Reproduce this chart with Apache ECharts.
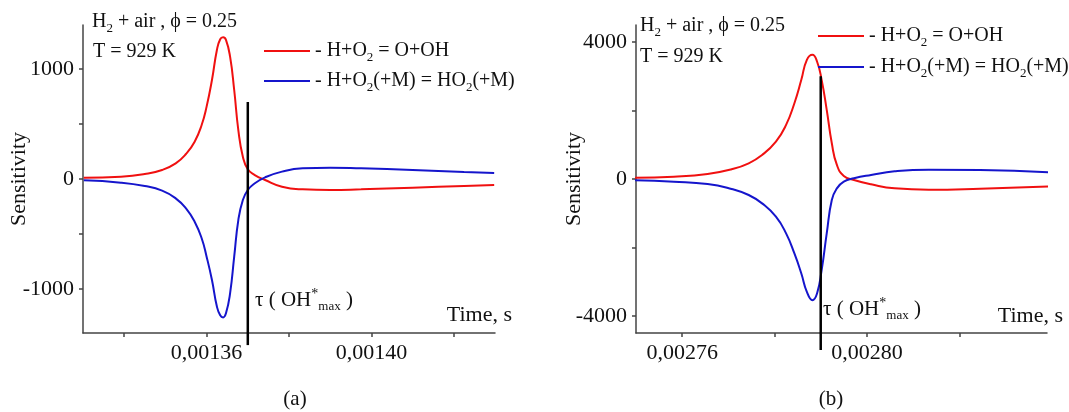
<!DOCTYPE html>
<html>
<head>
<meta charset="utf-8">
<script src="https://cdn.jsdelivr.net/npm/echarts@6/dist/echarts.min.js"></script>
<style>
  html, body { margin: 0; padding: 0; background: #fff; }
  #chart { width: 1069px; height: 412px; }
</style>
</head>
<body>
<div id="chart"></div>
<script>
// panel (a)
const timeA = [0.0013302, 0.0013392, 0.001345, 0.0013492, 0.0013525, 0.001355, 0.0013571, 0.0013588, 0.00136, 0.0013613,
  0.0013625, 0.0013633, 0.001364, 0.0013647, 0.0013657, 0.0013667, 0.0013677, 0.0013688, 0.00137, 0.0013717,
  0.0013742, 0.0013783, 0.0013833, 0.00139, 0.0013975, 0.00141, 0.0014225, 0.0014298];
const redA = [12, 21, 45, 82, 142, 227, 339, 491, 658, 900, 1173, 1270, 1288, 1264, 1112, 809, 445, 203, 88, 36,
  -9, -70, -94, -100, -94, -79, -64, -55];
const blueA = [-12, -33, -64, -106, -176, -267, -388, -539, -706, -918, -1160, -1239, -1258, -1221, -1039, -706, -373, -191, -100, -39,
  15, 67, 97, 103, 97, 82, 64, 55];
const tauA = 0.00137;
const tauSpanA = [700, -1510];
const xTicksA = [0.00134, 0.00136, 0.00138, 0.00140, 0.00142];
const xLabelsA = [0.00136, 0.00140];
const yTicksA = [-1000, -500, 0, 500, 1000];
const yLabelsA = [-1000, 0, 1000];

// panel (b)
const timeB = [0.0027498, 0.0027582, 0.0027655, 0.0027707, 0.0027744, 0.0027773, 0.0027803, 0.0027825, 0.0027843, 0.0027858,
  0.002787, 0.0027882, 0.0027892, 0.0027902, 0.0027913, 0.0027924, 0.0027935, 0.002795, 0.0027972, 0.0028009,
  0.002806, 0.0028134, 0.0028245, 0.0028394];
const redB = [39, 68, 146, 283, 459, 702, 1093, 1580, 2215, 2898, 3483, 3629, 3434, 2898, 2020, 1044, 410, 88, -29, -156,
  -273, -312, -283, -215];
const blueB = [-39, -78, -146, -293, -468, -712, -1102, -1590, -2176, -2761, -3298, -3541, -3346, -2663, -1590, -615, -273, -78, 20, 117,
  224, 273, 263, 195];
const tauB = 0.00279;
const tauSpanB = [3000, -5000];
const xTicksB = [0.00276, 0.00278, 0.00280, 0.00282];
const xLabelsB = [0.00276, 0.00280];
const yTicksB = [-4000, -2000, 0, 2000, 4000];
const yLabelsB = [-4000, 0, 4000];

const RED = '#f01010';
const BLUE = '#1515cc';
const FONT = '"Liberation Serif", "Times New Roman", serif';
const INK = '#111';

const legendText = {
  'r': '{n|- H+O}{s|2}{n| = O+OH}',
  'b': '{n|- H+O}{s|2}{n|(+M) = HO}{s|2}{n|(+M)}'
};

function pairs(xs, ys) {
  return xs.map((x, i) => [x, ys[i]]);
}

function xAxis(idx, min, max, ticks, labels) {
  return {
    type: 'value', gridIndex: idx, min: min, max: max,
    axisLine: { onZero: false, lineStyle: { color: '#444', width: 1.5 } },
    axisTick: { customValues: ticks, length: 4, lineStyle: { color: '#444', width: 1.5 } },
    axisLabel: {
      customValues: labels, margin: 9, color: INK, fontFamily: FONT, fontSize: 22,
      formatter: v => v.toFixed(5).replace('.', ',')
    },
    splitLine: { show: false }
  };
}

function yAxis(idx, min, max, ticks, labels, gap) {
  return {
    type: 'value', gridIndex: idx, min: min, max: max,
    name: 'Sensitivity', nameLocation: 'middle', nameGap: gap, nameRotate: 90, nameMoveOverlap: false,
    nameTextStyle: { color: INK, fontFamily: FONT, fontSize: 22 },
    axisLine: { show: true, onZero: false, lineStyle: { color: '#444', width: 1.5 } },
    axisTick: { show: true, customValues: ticks, length: 4, lineStyle: { color: '#444', width: 1.5 } },
    axisLabel: {
      customValues: labels, margin: 9, color: INK, fontFamily: FONT, fontSize: 22,
      formatter: v => String(v)
    },
    splitLine: { show: false }
  };
}

function curve(name, color, idx, xs, ys) {
  return {
    name: name, type: 'line', xAxisIndex: idx, yAxisIndex: idx,
    data: pairs(xs, ys), showSymbol: false, smooth: 0.5, color: color,
    lineStyle: { color: color, width: 2 }, itemStyle: { color: color }
  };
}

function tauLine(idx, t, span) {
  return {
    type: 'line', xAxisIndex: idx, yAxisIndex: idx, clip: false, silent: true,
    data: [[t, span[0]], [t, span[1]]], showSymbol: false,
    lineStyle: { color: '#000', width: 2.5 }, z: 3
  };
}

function legend(left, top, gap) {
  return {
    data: ['r', 'b'], orient: 'vertical', left: left, top: top, padding: 0, itemGap: gap,
    itemWidth: 46, itemHeight: 2, icon: 'rect', selectedMode: false,
    itemStyle: { borderWidth: 0 },
    formatter: name => legendText[name],
    textStyle: {
      rich: {
        n: { fontSize: 20, fontFamily: FONT, color: INK, lineHeight: 26 },
        s: { fontSize: 13, fontFamily: FONT, color: INK, lineHeight: 12, verticalAlign: 'bottom' }
      }
    }
  };
}

function txt(x, y, text, size, align) {
  return {
    type: 'text', x: x, y: y, silent: true,
    style: {
      text: text, textAlign: align || 'left', textVerticalAlign: 'middle',
      fill: INK, fontSize: size, fontFamily: FONT,
      rich: {
        n: { fontSize: size, fontFamily: FONT, fill: INK, lineHeight: 26 },
        s: { fontSize: 13, fontFamily: FONT, fill: INK, lineHeight: 12, verticalAlign: 'bottom' },
        p: { fontSize: 14, fontFamily: FONT, fill: INK, lineHeight: 12, verticalAlign: 'top' }
      }
    }
  };
}

const chart = echarts.init(document.getElementById('chart'));

chart.setOption({
  animation: false,
  backgroundColor: '#fff',
  grid: [
    { left: 83, top: 25, width: 412, height: 308 },
    { left: 636, top: 25, width: 411, height: 308 }
  ],
  xAxis: [
    xAxis(0, 0.00133, 0.00143, xTicksA, xLabelsA),
    xAxis(1, 0.00275, 0.002839, xTicksB, xLabelsB)
  ],
  yAxis: [
    yAxis(0, -1400, 1400, yTicksA, yLabelsA, 53),
    yAxis(1, -4500, 4500, yTicksB, yLabelsB, 51)
  ],
  legend: [legend(264, 41, 7), legend(818, 26, 8)],
  series: [
    curve('r', RED, 0, timeA, redA),
    curve('b', BLUE, 0, timeA, blueA),
    tauLine(0, tauA, tauSpanA),
    curve('r', RED, 1, timeB, redB),
    curve('b', BLUE, 1, timeB, blueB),
    tauLine(1, tauB, tauSpanB)
  ],
  graphic: [
    txt(92, 22, '{n|H}{s|2}{n| + air , ϕ = 0.25}', 20),
    txt(93, 52, '{n|T = 929 K}', 20),
    txt(640, 26, '{n|H}{s|2}{n| + air , ϕ = 0.25}', 20),
    txt(640, 57, '{n|T = 929 K}', 20),
    txt(255, 300, '{n|τ ( OH}{p|*}{s|max}{n| )}', 21),
    txt(823, 309, '{n|τ ( OH}{p|*}{s|max}{n| )}', 21),
    txt(512, 315, '{n|Time, s}', 22, 'right'),
    txt(1063, 316, '{n|Time, s}', 22, 'right'),
    txt(295, 399, '{n|(a)}', 21, 'center'),
    txt(831, 399, '{n|(b)}', 21, 'center')
  ]
});
</script>
</body>
</html>
